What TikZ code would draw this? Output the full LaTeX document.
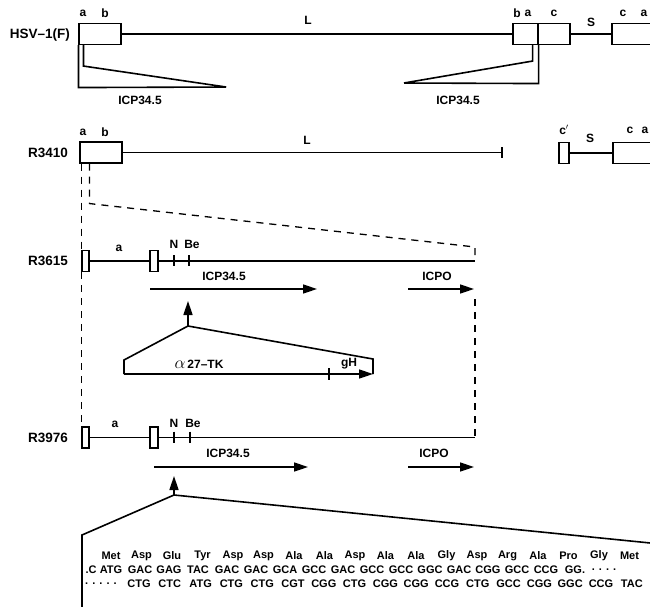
\documentclass[tikz,border=0pt]{standalone}
\usepackage{fontspec}
\setmainfont{Liberation Sans}
\usetikzlibrary{arrows.meta,positioning}

\begin{document}
\begin{tikzpicture}[x=1pt,y=-1pt,
    seg/.style={draw,line width=1.1pt,minimum height=21pt,inner sep=0pt},
    dna/.style={line width=1.6pt},
    tick/.style={line width=1.2pt},
    dashline/.style={line width=1.3pt,dash pattern=on 7pt off 6pt},
    lbl/.style={font=\bfseries\fontsize{12}{12}\selectfont,inner sep=0pt},
    rowname/.style={font=\bfseries\fontsize{13.5}{14}\selectfont,anchor=east,inner sep=0pt},
    gene/.style={line width=1.6pt,-{Triangle[length=14pt,width=9pt]}},
    seq/.style={font=\bfseries\fontsize{11}{11}\selectfont,inner sep=0pt},
  ]
  \clip (0,0) rectangle (650,606);

  % HSV-1(F)
  \node[rowname] (nhsv) at (70,35) {HSV--1(F)};
  \node[seg,minimum width=42pt] (h1) at (100,34) {};
  \node[seg,minimum width=25pt] (h2) at (525.5,34) {};
  \node[seg,minimum width=32pt] (h3) at (554,34) {};
  \node[seg,minimum width=56pt] (h4) at (640,34) {};
  \draw[dna] (h1.east) -- (h2.west);
  \draw[dna] (h3.east) -- (h4.west);
  \node[lbl] (ha1) at (83,13) {a};
  \node[lbl] (hb1) at (105,13) {b};
  \node[lbl] (hL) at (308,20) {L};
  \node[lbl] (hb2) at (517,13) {b};
  \node[lbl] (ha2) at (528,13) {a};
  \node[lbl] (hc1) at (554,13) {c};
  \node[lbl] (hS) at (591,22) {S};
  \node[lbl] (hc2) at (623,13) {c};
  \node[lbl] (ha3) at (644,13) {a};
  \draw[dna] (h1.south west) -- ++(0,42.5) -- (226,87) coordinate (t1tip);
  \draw[dna] ([xshift=5pt]h1.south west) -- ++(0,21) -- (t1tip);
  \draw[dna] (h2.south east) -- ++(0,38.5) -- (404,83) coordinate (t2tip);
  \draw[dna] ([xshift=-6pt]h2.south east) -- ++(0,16) -- (t2tip);
  \node[lbl] (icp1) at (140,100) {ICP34.5};
  \node[lbl] (icp2) at (458,100) {ICP34.5};

  % R3410
  \node[rowname] (nr3410) at (68,153) {R3410};
  \node[seg,minimum width=42pt] (r1) at (101,152.5) {};
  \coordinate (rend) at (503,152.5);
  \draw[dna,-{Bar[width=11pt]}] (r1.east) -- (rend);
  \node[seg,minimum width=10pt] (r2) at (564,153) {};
  \node[seg,minimum width=56pt] (r3) at (641,153) {};
  \draw[dna] (r2.east) -- (r3.west);
  \node[lbl] (ra1) at (83,132) {a};
  \node[lbl] (rb1) at (105,132) {b};
  \node[lbl] (rL) at (307,140) {L};
  \node[lbl] (rc1) at (564,130) {c$'$};
  \node[lbl] (rS) at (590,138) {S};
  \node[lbl] (rc2) at (630,130) {c};
  \node[lbl] (ra2) at (645,130) {a};

  % R3615
  \node[rowname] (nr3615) at (68,261) {R3615};
  \node[seg,minimum width=7pt] (p1) at (85.5,261) {};
  \node[seg,minimum width=8pt] (p2) at (154,261) {};
  \coordinate (pend) at (475,261);
  \draw[dna] (p1.east) -- (p2.west);
  \draw[dna] (p2.east) -- (pend);
  \coordinate (pn) at (174,261);
  \coordinate (pb) at (189,261);
  \draw[tick] (pn) ++(0,-6) -- ++(0,11);
  \draw[tick] (pb) ++(0,-6) -- ++(0,11);
  \node[lbl] (pa) at (119,248) {a};
  \node[lbl] (pN) at (174,244) {N};
  \node[lbl] (pBe) at (192,244) {Be};
  \node[lbl] (pg1) at (224,276) {ICP34.5};
  \node[lbl] (pg2) at (437,276) {ICPO};
  \coordinate (pa1) at (150,289);
  \coordinate (pa2) at (317,289);
  \coordinate (pc1) at (408,289);
  \coordinate (pc2) at (474,289);
  \draw[gene] (pa1) -- (pa2);
  \draw[gene] (pc1) -- (pc2);

  % insert
  \coordinate (apex) at (188,326);
  \draw[gene] (apex) -- (188,301);
  \draw[dna] (apex) -- (124,360) -- (124,374) coordinate (ins1);
  \draw[dna] (apex) -- (373,359) -- (373,374) coordinate (ins2);
  \draw[gene] (ins1) -- (ins2);
  \draw[tick] (329,368) -- (329,380);
  \node[lbl] (tk) at (199,364) {{\fontsize{17}{17}\selectfont$\alpha$}\,27--TK};
  \node[lbl] (gH) at (349,364) {gH};

  % R3976
  \node[rowname] (nr3976) at (68,438) {R3976};
  \node[seg,minimum width=7pt] (q1) at (85.5,437.5) {};
  \node[seg,minimum width=8pt] (q2) at (154,437.5) {};
  \coordinate (qend) at (475,437.5);
  \draw[dna] (q1.east) -- (q2.west);
  \draw[dna] (q2.east) -- (qend);
  \coordinate (qn) at (174,437.5);
  \coordinate (qb) at (190,437.5);
  \draw[tick] (qn) ++(0,-6) -- ++(0,11);
  \draw[tick] (qb) ++(0,-6) -- ++(0,11);
  \node[lbl] (qa) at (115,424) {a};
  \node[lbl] (qN) at (174,423) {N};
  \node[lbl] (qBe) at (193,423) {Be};
  \node[lbl] (qg1) at (228,453) {ICP34.5};
  \node[lbl] (qg2) at (434,453) {ICPO};
  \coordinate (qa1) at (154,467);
  \coordinate (qa2) at (308,467);
  \coordinate (qc1) at (408,467);
  \coordinate (qc2) at (474,467);
  \draw[gene] (qa1) -- (qa2);
  \draw[gene] (qc1) -- (qc2);

  % dashed guides
  \draw[dashline] (p1.north west |- r1.south) -- (p1.north west);
  \draw[dashline] ([xshift=10pt]r1.south west) -- ++(0,40) -- (475,247) -- (pend);
  \draw[dashline] (p1.south west) -- (q1.north west);
  \draw[dashline] (pend) ++(0,38) -- (qend);

  % sequence
  \coordinate (apex2) at (174,495);
  \draw[gene] (apex2) -- (174,476);
  \draw[dna] (apex2) -- (82,535) -- (82,615);
  \draw[dna] (apex2) -- (700,548);
  \foreach \aa [count=\k from 0] in {Met,Asp,Glu,Tyr,Asp,Asp,Ala,Ala,Asp,Ala,Ala,Gly,Asp,Arg,Ala,Pro,Gly,Met}
    \node[seq] (aa\k) at ({111+30.5*\k},556) {\aa};
  \node[seq] (topl) at (91,570) {.C};
  \foreach \cd [count=\k from 0] in {ATG,GAC,GAG,TAC,GAC,GAC,GCA,GCC,GAC,GCC,GCC,GGC,GAC,CGG,GCC,CCG,GG.,. . . .}
    \node[seq] (top\k) at ({111+29*\k},570) {\cd};
  \node[seq] (botl) at (101,584) {. . . . .};
  \foreach \cd [count=\k from 1] in {CTG,CTC,ATG,CTG,CTG,CGT,CGG,CTG,CGG,CGG,CCG,CTG,GCC,CGG,GGC,CCG,TAC}
    \node[seq] (bot\k) at ({139+30.8*(\k-1)},584) {\cd};
\end{tikzpicture}
\end{document}
